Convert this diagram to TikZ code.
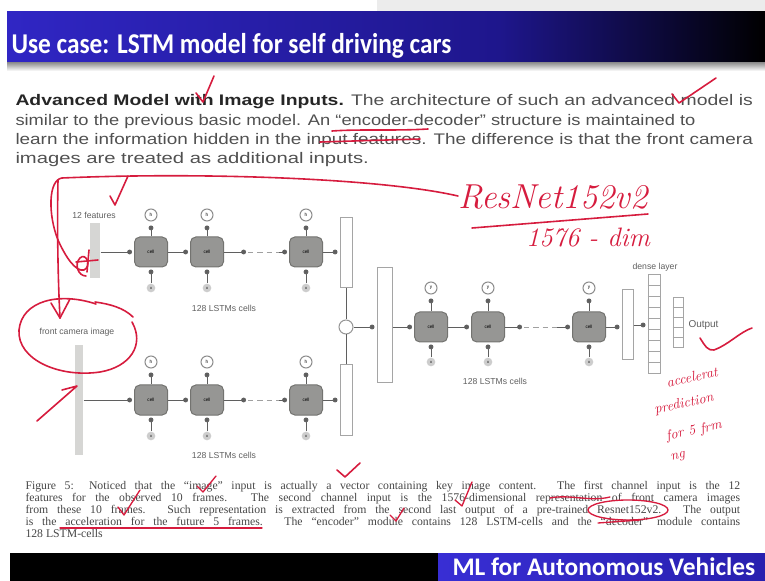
\documentclass[tikz,border=0pt]{standalone}
\usepackage{fontspec}
\usepackage{graphicx}
\usetikzlibrary{arrows.meta,positioning}

\newfontfamily\titlefont{Carlito}
\newfontfamily\slidefont{Liberation Sans}
\newfontfamily\capfont{Liberation Serif}

\definecolor{barblue}{RGB}{48,38,196}
\definecolor{bardark}{RGB}{30,22,140}
\definecolor{handred}{RGB}{214,28,62}
\definecolor{cellgray}{RGB}{150,150,148}
\definecolor{linegray}{RGB}{95,95,95}
\definecolor{textgray}{RGB}{80,80,80}

\tikzset{every picture/.style={line width=0.75pt}}

\begin{document}
\begin{tikzpicture}[x=0.75pt,y=0.75pt,yscale=-1,xscale=1,
  cell/.style={draw={rgb,255:red,115;green,115;blue,112}, fill=cellgray, rounded corners=4pt,
    minimum width=24.75pt, minimum height=22.5pt, inner sep=0pt, font=\slidefont\fontsize{3.5}{4}\selectfont},
  ycirc/.style={circle, draw={rgb,255:red,140;green,140;blue,140}, fill=white, minimum size=9pt, inner sep=0pt,
    font=\slidefont\fontsize{3.5}{4}\selectfont},
  xcirc/.style={circle, fill={rgb,255:red,205;green,205;blue,205}, minimum size=6.5pt, inner sep=0pt,
    font=\slidefont\fontsize{3}{3}\selectfont},
  vec/.style={draw={rgb,255:red,165;green,165;blue,165}, fill=white, inner sep=0pt},
  featbar/.style={fill={rgb,255:red,214;green,214;blue,212}, inner sep=0pt},
  conn/.style={draw=linegray, line width=0.6pt},
  dottip/.style={-{Circle[length=3.6pt]}, shorten >=1.5pt},
  gap/.style={draw={rgb,255:red,160;green,160;blue,160}, line width=0.6pt, dash pattern={on 4pt off 3pt}},
  small/.style={font=\slidefont\fontsize{6.5}{7}\selectfont, text=linegray, inner sep=0.75pt},
  partext/.style={anchor=base west, text=textgray, font=\slidefont\fontsize{11.5}{13}\selectfont, inner sep=0pt},
  captext/.style={anchor=base west, inner sep=0pt, text={rgb,255:red,70;green,70;blue,70}, font=\capfont\fontsize{8.8}{9}\selectfont},
  hand/.style={draw=handred, line width=1.2pt, line cap=round, line join=round},
  handtext/.style={text=handred, font=\itshape, inner sep=0pt}]

\useasboundingbox (0,0) rectangle (765,581);
\fill[fill={rgb,255:red,236;green,236;blue,236}] (377,0) rectangle (765,12);

%Title bar
\fill[left color=barblue, right color=bardark] (7,12) rectangle (500,63);
\fill[left color=bardark, right color=black] (500,12) rectangle (765,63);
\fill[top color={rgb,255:red,150;green,150;blue,150}, bottom color=white] (7,63) rectangle (765,71);
\node[anchor=base west, text=white, font=\titlefont\bfseries\fontsize{21.5}{24}\selectfont, inner sep=0pt] (title) at (11,54) {\resizebox{330pt}{\height}{Use case: LSTM model for self driving cars}};

% Text Node
\node[partext] (par1) at (15,106) {\resizebox{553pt}{\height}{\textbf{\color{black!85}Advanced Model with Image Inputs.} The architecture of such an advanced model is}};
\node[partext] (par2) at (15,125.5) {\resizebox{510pt}{\height}{similar to the previous basic model. An “encoder-decoder” structure is maintained to}};
\node[partext] (par3) at (15,145) {\resizebox{553pt}{\height}{learn the information hidden in the input features. The difference is that the front camera}};
\node[partext] (par4) at (15,164) {\resizebox{265pt}{\height}{images are treated as additional inputs.}};

%Encoder inputs
\node[featbar, minimum width=7.5pt, minimum height=41.25pt] (feat) at (95,250.5) {};
\node[featbar, minimum width=6pt, minimum height=82.5pt] (cam) at (79,400) {};
\node[small] (featlbl) at (94,215) {12 features};
\node[small] (camlbl) at (77,332) {front camera image};

%Encoder upper row
\node[cell] (c11) at (151,252) {cell};
\node[cell] (c12) at (207,252) {cell};
\node[cell] (c13) at (306,252) {cell};
\node[ycirc] (y11) at (151,215) {h};
\node[ycirc] (y12) at (207,215) {h};
\node[ycirc] (y13) at (306,215) {h};
\node[xcirc] (x11) at (151,288) {x};
\node[xcirc] (x12) at (207,288) {x};
\node[xcirc] (x13) at (306,288) {x};
\node[vec, minimum width=9pt, minimum height=52.5pt] (h1) at (346,253) {};
\coordinate (g11) at (248,252);
\coordinate (g12) at (279,252);
\node[small] (lbl1) at (224,308) {128 LSTMs cells};

\draw[conn, dottip] (feat.east |- c11.west) -- (c11.west);
\draw[conn, dottip] (c11.east) -- (c12.west);
\draw[conn, dottip] (c12.east) -- (g11);
\draw[gap] (g11) -- (g12);
\draw[conn, dottip] (g12) -- (c13.west);
\draw[conn, dottip] (c13.east) -- (h1.west |- c13.east);
\draw[conn, dottip, shorten >=3pt] (c11.north) -- (y11.south);
\draw[conn, dottip, shorten >=3pt] (c12.north) -- (y12.south);
\draw[conn, dottip, shorten >=3pt] (c13.north) -- (y13.south);
\draw[conn, dottip] (x11.north) -- (c11.south);
\draw[conn, dottip] (x12.north) -- (c12.south);
\draw[conn, dottip] (x13.north) -- (c13.south);

%Encoder lower row
\node[cell] (c21) at (151,400) {cell};
\node[cell] (c22) at (207,400) {cell};
\node[cell] (c23) at (306,400) {cell};
\node[ycirc] (y21) at (151,362) {h};
\node[ycirc] (y22) at (207,362) {h};
\node[ycirc] (y23) at (306,362) {h};
\node[xcirc] (x21) at (151,436) {x};
\node[xcirc] (x22) at (207,436) {x};
\node[xcirc] (x23) at (306,436) {x};
\node[vec, minimum width=9pt, minimum height=52.5pt] (h2) at (346,400) {};
\coordinate (g21) at (248,400);
\coordinate (g22) at (279,400);
\node[small] (lbl2) at (224,455) {128 LSTMs cells};

\draw[conn, dottip] (cam.east |- c21.west) -- (c21.west);
\draw[conn, dottip] (c21.east) -- (c22.west);
\draw[conn, dottip] (c22.east) -- (g21);
\draw[gap] (g21) -- (g22);
\draw[conn, dottip] (g22) -- (c23.west);
\draw[conn, dottip] (c23.east) -- (h2.west |- c23.east);
\draw[conn, dottip, shorten >=3pt] (c21.north) -- (y21.south);
\draw[conn, dottip, shorten >=3pt] (c22.north) -- (y22.south);
\draw[conn, dottip, shorten >=3pt] (c23.north) -- (y23.south);
\draw[conn, dottip] (x21.north) -- (c21.south);
\draw[conn, dottip] (x22.north) -- (c22.south);
\draw[conn, dottip] (x23.north) -- (c23.south);

%Concatenation and context vector
\node[circle, draw={rgb,255:red,150;green,150;blue,150}, fill=white, minimum size=10.5pt, inner sep=0pt] (cat) at (346,327) {};
\node[vec, minimum width=11.25pt, minimum height=86.25pt] (ctx) at (384.5,325.5) {};
\draw[conn] (h1.south) -- (cat.north);
\draw[conn] (h2.north) -- (cat.south);
\draw[conn, dottip] (cat.east) -- (ctx.west |- cat.east);

%Decoder row
\node[cell] (d1) at (431,327) {cell};
\node[cell] (d2) at (488,327) {cell};
\node[cell] (d3) at (589,327) {cell};
\node[ycirc] (yd1) at (431,288) {y};
\node[ycirc] (yd2) at (488,288) {y};
\node[ycirc] (yd3) at (589,288) {y};
\node[xcirc] (xd1) at (431,362) {x};
\node[xcirc] (xd2) at (488,362) {x};
\node[xcirc] (xd3) at (589,362) {x};
\coordinate (gd1) at (524,327);
\coordinate (gd2) at (557,327);
\node[small] (lbl3) at (495,381) {128 LSTMs cells};

\draw[conn, dottip] (ctx.east |- d1.west) -- (d1.west);
\draw[conn, dottip] (d1.east) -- (d2.west);
\draw[conn, dottip] (d2.east) -- (gd1);
\draw[gap] (gd1) -- (gd2);
\draw[conn, dottip] (gd2) -- (d3.west);
\draw[conn, dottip, shorten >=3pt] (d1.north) -- (yd1.south);
\draw[conn, dottip, shorten >=3pt] (d2.north) -- (yd2.south);
\draw[conn, dottip, shorten >=3pt] (d3.north) -- (yd3.south);
\draw[conn, dottip] (xd1.north) -- (d1.south);
\draw[conn, dottip] (xd2.north) -- (d2.south);
\draw[conn, dottip] (xd3.north) -- (d3.south);

%Dense layer and output
\node[vec, minimum width=8.25pt, minimum height=52.5pt] (dout) at (627.5,325) {};
\node[vec, minimum width=9pt, minimum height=74.25pt] (dense) at (654,324) {};
\node[vec, minimum width=7.5pt, minimum height=37.5pt] (outv) at (678,323) {};
\foreach \k in {1,...,8} \draw[draw={rgb,255:red,165;green,165;blue,165}, line width=0.5pt] (dense.north west) ++(0,\k*11) -- ++(12,0);
\foreach \k in {1,...,4} \draw[draw={rgb,255:red,165;green,165;blue,165}, line width=0.5pt] (outv.north west) ++(0,\k*10) -- ++(10,0);
\node[small] (denselbl) at (655,267) {dense layer};
\node[small, anchor=west, font=\slidefont\fontsize{7.5}{8}\selectfont] (outlbl) at (687,325) {Output};
\draw[conn, dottip] (d3.east) -- (dout.west |- d3.east);
\draw[conn, dottip] (dout.east) -- (dense.west |- dout.east);

%Caption
\node[captext] (cap1) at (25,489) {\makebox[536pt][s]{Figure 5: Noticed that the “image” input is actually a vector containing key image content. The first channel input is the 12}};
\node[captext] (cap2) at (25,501) {\makebox[536pt][s]{features for the observed 10 frames. The second channel input is the 1576-dimensional representation of front camera images}};
\node[captext] (cap3) at (25,513) {\makebox[536pt][s]{from these 10 frames. Such representation is extracted from the second last output of a pre-trained Resnet152v2. The output}};
\node[captext] (cap4) at (25,525) {\makebox[536pt][s]{is the acceleration for the future 5 frames. The “encoder” module contains 128 LSTM-cells and the “decoder” module contains}};
\node[captext] (cap5) at (25,537) {128 LSTM-cells};

%Footer
\fill[black] (10,553) rectangle (765,581);
\fill[left color={rgb,255:red,56;green,46;blue,212}, right color={rgb,255:red,40;green,32;blue,175}] (438,553) rectangle (765,581);
\node[anchor=base west, text=white, font=\titlefont\bfseries\fontsize{19}{22}\selectfont, inner sep=0pt] (footer) at (452,575) {\resizebox{227pt}{\height}{ML for Autonomous Vehicles}};

%Pen marks
\draw[hand] (196,93) -- (203,102) -- (214,76);
\draw[hand] (672,94) -- (679,103) -- (716,78);
\draw[hand] (332,131) .. controls (360,129) and (395,131) .. (428,129);
\draw[hand] (320,142) -- (420,139);
\draw[hand] (458,196) .. controls (380,178) and (200,172) .. (62,178) .. controls (48,180) and (48,215) .. (58,240) .. controls (66,258) and (76,272) .. (84,270) .. controls (92,266) and (86,252) .. (80,258) .. controls (74,264) and (78,276) .. (86,276);
\draw[hand] (76,262) -- (98,260);
\draw[hand] (89,250) -- (87,272);
\draw[hand] (58,180) .. controls (57,230) and (58,280) .. (60,318);
\draw[hand] (51,303) -- (60,318) -- (70,299);
\draw[hand] (110,196) -- (115,205) -- (128,176);
\draw[hand] (96,304) .. controls (60,292) and (22,300) .. (19,330) .. controls (17,360) and (60,378) .. (100,372) .. controls (130,367) and (145,345) .. (132,322);
\draw[hand] (95,302) .. controls (110,304) and (124,308) .. (133,317);
\draw[hand] (62,390) -- (77,386) -- (37,421);
\draw[hand] (337,470) -- (345,477) -- (360,463);
\draw[hand] (700,338) .. controls (705,346) and (708,351) .. (714,350) .. controls (728,345) and (740,332) .. (752,328);
\draw[hand] (472,228) -- (648,214);
\node[handtext, font=\itshape\fontsize{26}{28}\selectfont] (resnet) at (553,197) {ResNet152v2};
\node[handtext, font=\itshape\fontsize{20}{22}\selectfont] (dimlbl) at (588,238) {1576 - dim};
\node[handtext, font=\itshape\fontsize{10.5}{11}\selectfont, rotate=12] (acc1) at (692,377) {accelerat};
\node[handtext, font=\itshape\fontsize{10.5}{11}\selectfont, rotate=12] (acc2) at (684,404) {prediction};
\node[handtext, font=\itshape\fontsize{10.5}{11}\selectfont, rotate=12] (acc3) at (694,431) {for 5 frm};
\node[handtext, font=\itshape\fontsize{10.5}{11}\selectfont, rotate=12] (acc4) at (678,457) {ng};
\draw[hand, line width=1pt] (197,486) -- (203,492) -- (216,476);
\draw[hand, line width=1pt] (118,507) -- (124,515) -- (140,490);
\draw[hand, line width=1pt] (455,500) -- (462,506) -- (472,482);
\draw[hand, line width=1pt] (390,515) -- (396,521) -- (404,508);
\draw[hand, line width=1pt] (60,528) -- (262,528);
\draw[hand, line width=1pt] (628,510) ellipse [x radius=40, y radius=10];
\draw[hand, line width=1pt] (550,498) .. controls (570,494) and (590,502) .. (610,497);
\draw[hand, line width=1pt] (598,523) -- (640,520);

\end{tikzpicture}
\end{document}
